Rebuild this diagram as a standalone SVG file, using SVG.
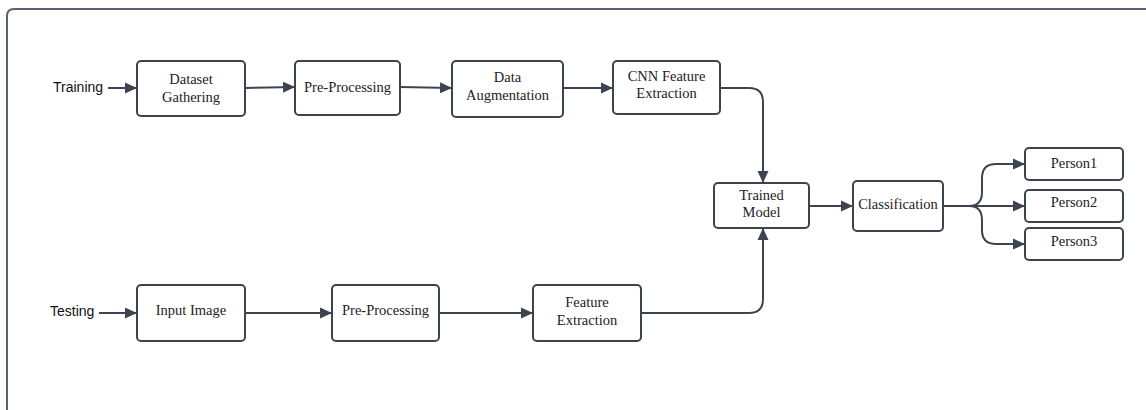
<svg xmlns="http://www.w3.org/2000/svg" width="1146" height="410" viewBox="0 0 1146 410">
<style>
.box{fill:#fff;stroke:#3d4450;stroke-width:2}
.t{font-family:"Liberation Serif","Times New Roman",serif;font-size:14.5px;fill:#222;text-anchor:middle}
.s{font-family:"Liberation Sans",Arial,sans-serif;font-size:14px;fill:#111}
.c{fill:none;stroke:#3d4450;stroke-width:2;marker-end:url(#ah)}
</style>
<defs>
<marker id="ah" viewBox="0 0 12 12" refX="12" refY="6" markerWidth="12" markerHeight="12" markerUnits="userSpaceOnUse" orient="auto">
<path d="M0,0.5 L12,6 L0,11.5 Z" fill="#3d4450"/>
</marker>
</defs>
<rect width="1146" height="410" fill="#fff"/>
<path d="M7,420 L7,16 Q7,9 14,9 L1160,9" fill="none" stroke="#5b6370" stroke-width="2"/>
<text class="s" x="53" y="92">Training</text>
<text class="s" x="50" y="316">Testing</text>
<g id="n-dataset"><rect class="box" x="137" y="61" width="108" height="55" rx="4"/><text class="t" x="191" y="84">Dataset</text><text class="t" x="191" y="102">Gathering</text></g>
<g id="n-pre1"><rect class="box" x="295" y="61" width="105" height="54" rx="4"/><text class="t" x="347.5" y="92">Pre-Processing</text></g>
<g id="n-aug"><rect class="box" x="452" y="61" width="111" height="56" rx="4"/><text class="t" x="507.5" y="82">Data</text><text class="t" x="507.5" y="100">Augmentation</text></g>
<g id="n-cnn"><rect class="box" x="613" y="61" width="107" height="53" rx="4"/><text class="t" x="666.5" y="81">CNN Feature</text><text class="t" x="666.5" y="98">Extraction</text></g>
<g id="n-trained"><rect class="box" x="714" y="183" width="95" height="45" rx="4"/><text class="t" x="761.5" y="200">Trained</text><text class="t" x="761.5" y="217">Model</text></g>
<g id="n-class"><rect class="box" x="853" y="181" width="90" height="50" rx="4"/><text class="t" x="898" y="209">Classification</text></g>
<g id="n-p1"><rect class="box" x="1025" y="148" width="98" height="32" rx="4"/><text class="t" x="1074" y="168">Person1</text></g>
<g id="n-p2"><rect class="box" x="1025" y="190" width="98" height="32" rx="4"/><text class="t" x="1074" y="207">Person2</text></g>
<g id="n-p3"><rect class="box" x="1025" y="228" width="98" height="32" rx="4"/><text class="t" x="1074" y="246">Person3</text></g>
<g id="n-input"><rect class="box" x="137" y="285" width="108" height="56" rx="4"/><text class="t" x="191" y="315">Input Image</text></g>
<g id="n-pre2"><rect class="box" x="332" y="285" width="107" height="56" rx="4"/><text class="t" x="385.5" y="315">Pre-Processing</text></g>
<g id="n-feat"><rect class="box" x="533" y="285" width="108" height="56" rx="4"/><text class="t" x="587" y="307">Feature</text><text class="t" x="587" y="325">Extraction</text></g>
<g id="connectors">
<path class="c" d="M108,88 L137,88"/>
<path class="c" d="M245,88 L295,87"/>
<path class="c" d="M400,87 L452,88"/>
<path class="c" d="M563,88 L613,88"/>
<path class="c" d="M720,88 L749,88 Q763,88 763,102 L763,183"/>
<path class="c" d="M809,206 L853,206"/>
<path class="c" d="M943,206 L1025,206"/>
<path class="c" d="M943,206 L969,206 Q982,206 982,192 L982,178 Q982,164 996,164 L1025,164"/>
<path class="c" d="M943,206 L969,206 Q982,206 982,220 L982,230 Q982,244 996,244 L1025,244"/>
<path class="c" d="M99,313 L137,313"/>
<path class="c" d="M245,313 L332,313"/>
<path class="c" d="M439,313 L533,313"/>
<path class="c" d="M641,313 L749,313 Q763,313 763,299 L763,228"/>
</g>
</svg>
